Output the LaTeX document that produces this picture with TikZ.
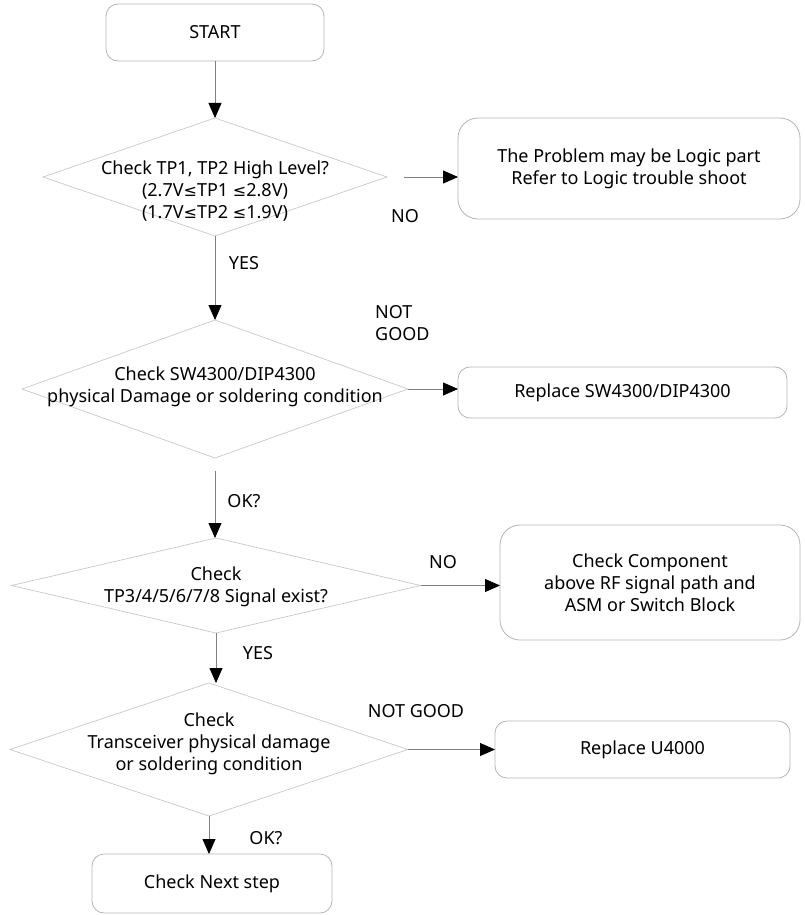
\documentclass[tikz,border=0pt]{standalone}
\usepackage{fontspec}
\setmainfont{Noto Sans}
\newfontfamily\symfont{DejaVu Sans}
\newcommand{\lesym}{{\symfont\fontsize{16}{22}\selectfont ≤}}
\usepackage{tikz}
\usetikzlibrary{positioning,arrows.meta,shapes.geometric}
\definecolor{boxgray}{RGB}{180,180,180}
\definecolor{diagray}{RGB}{200,200,200}
\definecolor{linegray}{RGB}{128,128,128}

\begin{document}
\begin{tikzpicture}[x=1pt, y=-1pt, font=\fontsize{18}{22}\selectfont,
  box/.style={draw=boxgray, line width=0.8pt, rounded corners=12pt, align=center, inner sep=0pt, outer sep=0pt},
  decision/.style={diamond, draw=diagray, line width=0.7pt, inner sep=0pt, outer sep=0pt},
  flow/.style={draw=linegray, line width=0.8pt, -{Triangle[length=15pt, width=13pt, black]}},
  lbl/.style={inner sep=0pt, align=center}]
\useasboundingbox (0,0) rectangle (804,915);

\node[box, minimum width=218pt, minimum height=57pt] (start) at (215,32.5) {START};

\node[decision, minimum width=344pt, minimum height=118pt] (d1) at (215,177) {};
\node[lbl] (d1txt) at (215,191) {Check TP1, TP2 High Level?\\(2.7V\lesym TP1 \lesym 2.8V)\\(1.7V\lesym TP2 \lesym 1.9V)};
\node[box, rounded corners=20pt, minimum width=342pt, minimum height=101pt] (logic) at (629,168.5) {The Problem may be Logic part\\Refer to Logic trouble shoot};

\node[decision, minimum width=386pt, minimum height=138pt] (d2) at (215,389) {};
\node[lbl] (d2txt) at (215,387) {Check SW4300/DIP4300\\physical Damage or soldering condition};
\node[box, minimum width=329pt, minimum height=51pt] (swap1) at (622.5,392.5) {Replace SW4300/DIP4300};

\node[decision, minimum width=409pt, minimum height=95pt] (d3) at (216,585.5) {};
\node[lbl] (d3txt) at (216,586.5) {Check\\TP3/4/5/6/7/8 Signal exist?};
\node[box, rounded corners=20pt, minimum width=300pt, minimum height=115pt] (comp) at (650,582.5) {Check Component\\above RF signal path and\\ASM or Switch Block};

\node[decision, minimum width=398pt, minimum height=133pt] (d4) at (209,749.5) {};
\node[lbl] (d4txt) at (209,744) {Check\\Transceiver physical damage\\or soldering condition};
\node[box, minimum width=295pt, minimum height=57pt] (swap2) at (642.5,749.5) {Replace U4000};

\node[box, minimum width=240pt, minimum height=59pt] (next) at (212,883.5) {Check Next step};

\node[lbl] (no1) at (405,216) {NO};
\node[lbl] (yes1) at (244,263) {YES};
\node[lbl, align=left, anchor=west] (ng1) at (375,323.5) {NOT\\GOOD};
\node[lbl] (ok1) at (244,501) {OK?};
\node[lbl] (no2) at (443,562) {NO};
\node[lbl] (yes2) at (258,653) {YES};
\node[lbl] (ng2) at (416,711) {NOT GOOD};
\node[lbl] (ok2) at (266,838) {OK?};

\draw[flow] (start.south) -- (start.south |- d1.north);
\draw[flow, shorten <=17pt] (d1.east) -- (d1.east -| logic.west);
\draw[flow] (d1.south) -- (d1.south |- d2.north);
\draw[flow] (d2.east) -- (d2.east -| swap1.west);
\draw[flow, shorten <=13pt] (d2.south) -- (d2.south |- d3.north);
\draw[flow] (d3.east) -- (d3.east -| comp.west);
\draw[flow] (d3.south) -- (d3.south |- d4.north);
\draw[flow] (d4.east) -- (d4.east -| swap2.west);
\draw[flow] (d4.south) -- (d4.south |- next.north);
\end{tikzpicture}
\end{document}
